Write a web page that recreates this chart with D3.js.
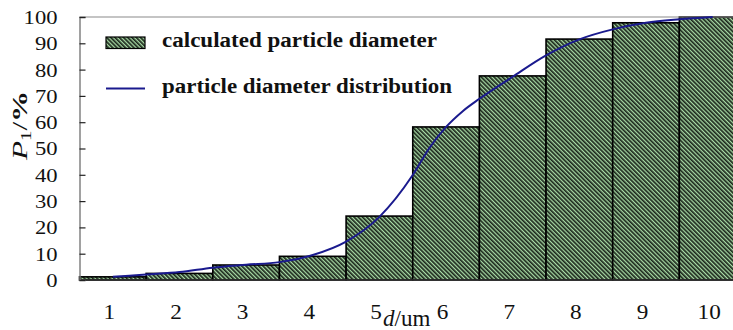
<!DOCTYPE html>
<html>
<head>
<meta charset="utf-8">
<script src="https://cdn.jsdelivr.net/npm/d3@7/dist/d3.min.js"></script>
<style>
  html, body { margin: 0; padding: 0; background: #fff; }
  svg { display: block; }
  svg text { font-family: "Times New Roman", "Liberation Serif", Tinos, serif; fill: #111; }
</style>
</head>
<body>
<svg id="chart" width="733" height="330"></svg>
<script>
// Particle size classes (um) and cumulative percentage per class
const diameters = ["1", "2", "3", "4", "5", "6", "7", "8", "9", "10"];
const cumulative = [1.2, 2.5, 5.7, 9.0, 24.3, 58.2, 77.6, 91.6, 97.8, 100];

// Fitted cumulative distribution curve (d in um, P in %)
const curveD = [1, 1.5, 2, 2.5, 3, 3.5, 4, 4.5, 5, 5.5, 5.75, 6, 6.25, 6.5, 7, 7.5, 8, 8.5, 9, 9.5, 10];
const curveP = [1.2, 2.1, 3.0, 4.7, 5.8, 6.8, 9.5, 14.6, 24.0, 39.9, 50.2, 58.2, 64.2, 68.9, 77.3, 85.4, 91.5, 95.3, 97.8, 99.1, 100];

const yTicks = [0, 10, 20, 30, 40, 50, 60, 70, 80, 90, 100];
const legendLabels = ["calculated particle diameter", "particle diameter distribution"];

const serif = '"Times New Roman", "Liberation Serif", Tinos, serif';
const svg = d3.select("#chart");
const plotLeft = 79.5, plotTop = 17, plotBottom = 280, plotRight = 746;

const x = d3.scaleBand().domain(diameters).range([plotLeft, plotRight]).paddingInner(0).paddingOuter(0);
const bw = x.bandwidth();
const xd = d3.scaleLinear().domain([1, 10]).range([x("1") + bw / 2, x("10") + bw / 2]);
const y = d3.scaleLinear().domain([0, 100]).range([plotBottom, plotTop]);

// Hatched fill: dark diagonal stripes over light green
const defs = svg.append("defs");
const pat = defs.append("pattern")
  .attr("id", "hatch")
  .attr("patternUnits", "userSpaceOnUse")
  .attr("width", 3).attr("height", 3)
  .attr("patternTransform", "rotate(-45)");
pat.append("rect").attr("width", 3).attr("height", 3).attr("fill", "#a9dca6");
pat.append("rect").attr("width", 1.7).attr("height", 3).attr("fill", "#1b261b");

// Bars
svg.append("g").selectAll("rect")
  .data(diameters)
  .join("rect")
  .attr("x", d => x(d))
  .attr("y", (d, i) => y(cumulative[i]))
  .attr("width", bw)
  .attr("height", (d, i) => y(0) - y(cumulative[i]))
  .attr("fill", "url(#hatch)")
  .attr("stroke", "#000")
  .attr("stroke-width", 1.6);

// Frame: top in gray, bottom darker
svg.append("line").attr("x1", plotLeft).attr("x2", 733).attr("y1", plotTop).attr("y2", plotTop)
  .attr("stroke", "#8a8a8a").attr("stroke-width", 1.2);
svg.append("line").attr("x1", plotLeft).attr("x2", 733).attr("y1", plotBottom).attr("y2", plotBottom)
  .attr("stroke", "#333").attr("stroke-width", 1.5);

// Distribution curve
const line = d3.line()
  .x((d, i) => xd(curveD[i]))
  .y(d => y(d))
  .curve(d3.curveMonotoneX);
svg.append("path")
  .attr("d", line(curveP))
  .attr("fill", "none")
  .attr("stroke", "#1a1a8e")
  .attr("stroke-width", 2);

// Y axis with inward ticks
const yAxis = svg.append("g")
  .attr("transform", `translate(${plotLeft},0)`)
  .call(d3.axisLeft(y).tickValues(yTicks).tickSize(-6).tickPadding(0))
  .attr("font-family", serif);
yAxis.select(".domain").attr("stroke", "#7a7a7a").attr("stroke-width", 1.4);
yAxis.selectAll(".tick line").attr("stroke", "#222").attr("stroke-width", 1.2);
yAxis.selectAll(".tick text")
  .attr("x", -22)
  .attr("dy", "0.36em")
  .attr("font-size", 18)
  .attr("fill", "#222")
  .attr("textLength", d => String(d).length * 11.3)
  .attr("lengthAdjust", "spacingAndGlyphs");

// X axis labels (no ticks)
const xAxis = svg.append("g")
  .attr("transform", `translate(-3.5,${plotBottom})`)
  .call(d3.axisBottom(x).tickSize(0).tickPadding(0))
  .attr("font-family", serif);
xAxis.select(".domain").remove();
xAxis.selectAll(".tick text")
  .attr("y", 39)
  .attr("dy", 0)
  .attr("font-size", 21)
  .attr("fill", "#222")
  .attr("textLength", d => d.length * 11.6)
  .attr("lengthAdjust", "spacingAndGlyphs");

// X axis title
const xt = svg.append("text")
  .attr("x", 383).attr("y", 326)
  .attr("font-size", 23)
  .attr("fill", "#222");
xt.append("tspan").attr("font-style", "italic").text("d");
xt.append("tspan").text("/um");

// Y axis title: italic P with subscript 1, stretched along its baseline
const yt = svg.append("g").attr("transform", "translate(27,160) rotate(-90) scale(1.3,0.85)")
  .append("text").attr("font-size", 24).attr("fill", "#222");
yt.append("tspan").attr("font-style", "italic").text("P");
yt.append("tspan").attr("font-size", 16).attr("dy", 5).text("1");
yt.append("tspan").attr("dy", -5).text("/");
yt.append("tspan").attr("font-weight", "bold").text("%");

// Legend
const lg = svg.append("g");
lg.append("rect").attr("x", 106).attr("y", 37).attr("width", 39).attr("height", 11.5)
  .attr("fill", "url(#hatch)").attr("stroke", "#000").attr("stroke-width", 1.2);
lg.append("line").attr("x1", 106).attr("x2", 145).attr("y1", 88.5).attr("y2", 88.5)
  .attr("stroke", "#1a1a8e").attr("stroke-width", 2);
lg.append("text").attr("x", 162).attr("y", 46.5)
  .attr("font-size", 20).attr("font-weight", "bold")
  .attr("textLength", 275).attr("lengthAdjust", "spacingAndGlyphs")
  .text(legendLabels[0]);
lg.append("text").attr("x", 162).attr("y", 93)
  .attr("font-size", 20).attr("font-weight", "bold")
  .attr("textLength", 290).attr("lengthAdjust", "spacingAndGlyphs")
  .text(legendLabels[1]);
</script>
</body>
</html>
